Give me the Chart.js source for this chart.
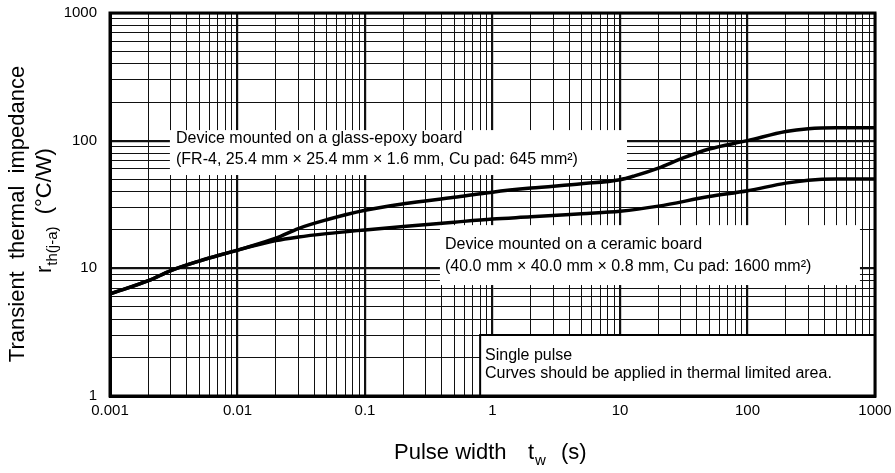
<!DOCTYPE html>
<html>
<head>
<meta charset="utf-8">
<script src="https://cdn.jsdelivr.net/npm/chart.js@4"></script>
<style>
  html, body { margin: 0; padding: 0; background: #fff; }
  #wrap { width: 895px; height: 473px; }
</style>
</head>
<body>
<div id="wrap"><canvas id="zthChart"></canvas></div>
<script>
// Pulse width (s) and transient thermal impedance (°C/W)
const pulseGlass = [0.001, 0.002, 0.003, 0.005, 0.01, 0.02, 0.03, 0.05, 0.1, 0.2, 0.5, 1, 2, 5, 10, 13, 20, 30, 50, 100, 200, 300, 500, 1000];
const rthGlass   = [6.3, 8.0, 9.6, 11.4, 13.9, 17.2, 20.5, 24, 28.5, 32, 36, 39.5, 42.5, 46, 49.5, 53, 61, 72, 86, 100, 118, 124, 126, 126];

const pulseCeramic = [0.001, 0.002, 0.003, 0.005, 0.01, 0.02, 0.03, 0.05, 0.1, 0.2, 0.5, 1, 2, 5, 10, 20, 50, 100, 200, 300, 500, 1000];
const rthCeramic   = [6.3, 8.0, 9.6, 11.4, 13.9, 16.5, 17.6, 18.7, 20, 21.3, 23, 24.3, 25.3, 26.8, 28, 30.7, 36.5, 40.5, 46.5, 49, 50, 50];

const xTickLabels = ["0.001", "0.01", "0.1", "1", "10", "100", "1000"];
const yTickLabels = ["1", "10", "100", "1000"];

const FONT = "'Liberation Sans', Arial, sans-serif";
Chart.defaults.font.family = FONT;
Chart.defaults.color = "#000";

// 1..9 x 10^e grid values for a log axis
function logGrid(e0, e1) {
  const out = [];
  for (let e = e0; e < e1; e++) {
    for (let m = 1; m <= 9; m++) out.push(Number((m * Math.pow(10, e)).toPrecision(12)));
  }
  out.push(Math.pow(10, e1));
  return out;
}
function isDecade(v) {
  const l = Math.log10(v);
  return Math.abs(l - Math.round(l)) < 1e-9;
}

const toPoints = (xs, ys) => xs.map((x, i) => ({ x: x, y: ys[i] }));

// white label boxes, in data coordinates
const boxes = [
  { x0: 0.00295, x1: 11.35, y0: 53.8, y1: 121,
    lines: ["Device mounted on a glass-epoxy board",
            "(FR-4, 25.4 mm \u00d7 25.4 mm \u00d7 1.6 mm, Cu pad: 645 mm\u00b2)"],
    tx: 176, ty: [139, 160] },
  { x0: 0.387, x1: 762, y0: 7.4, y1: 21.8,
    lines: ["Device mounted on a ceramic board",
            "(40.0 mm \u00d7 40.0 mm \u00d7 0.8 mm, Cu pad: 1600 mm\u00b2)"],
    tx: 445, ty: [245, 267] },
  { x0: 0.8, x1: 1000, y0: 1, y1: 3, border: true,
    lines: ["Single pulse", "Curves should be applied in thermal limited area."],
    tx: 485, ty: [356, 374] },
];

const boxPlugin = {
  id: "boxes",
  beforeDatasetsDraw(chart) {
    const { ctx, scales } = chart;
    ctx.save();
    ctx.fillStyle = "#fff";
    boxes.forEach((b) => {
      const l = scales.x.getPixelForValue(b.x0), r = scales.x.getPixelForValue(b.x1);
      const t = scales.y.getPixelForValue(b.y1), btm = scales.y.getPixelForValue(b.y0);
      ctx.fillRect(l, t, r - l, btm - t);
      if (b.border) {
        ctx.strokeStyle = "#000";
        ctx.lineWidth = 2;
        ctx.beginPath();
        ctx.moveTo(l, btm); ctx.lineTo(l, t); ctx.lineTo(r, t);
        ctx.stroke();
      }
    });
    ctx.restore();
  },
  afterDatasetsDraw(chart) {
    const { ctx, chartArea } = chart;
    ctx.save();
    ctx.fillStyle = "#000";
    ctx.font = "16px " + FONT;
    ctx.textBaseline = "middle";
    ctx.textAlign = "left";
    boxes.forEach((b) => {
      b.lines.forEach((s, i) => ctx.fillText(s, b.tx, b.ty[i]));
    });
    // frame
    ctx.strokeStyle = "#000";
    ctx.lineWidth = 3;
    ctx.strokeRect(chartArea.left, chartArea.top, chartArea.right - chartArea.left, chartArea.bottom - chartArea.top);
    ctx.restore();
  },
  afterDraw(chart) {
    const { ctx } = chart;
    ctx.save();
    ctx.fillStyle = "#000";
    ctx.textBaseline = "middle";
    // x title: Pulse width  t_w  (s)
    const y = 453;
    ctx.font = "22px " + FONT;
    ctx.fillText("Pulse width", 394, y);
    ctx.fillText("t", 528, y);
    ctx.fillText("(s)", 561, y);
    ctx.font = "15px " + FONT;
    ctx.fillText("w", 535, y + 8);

    // y title, two rotated lines
    ctx.save();
    ctx.translate(18, 214);
    ctx.rotate(-Math.PI / 2);
    ctx.textAlign = "center";
    ctx.font = "22px " + FONT;
    ctx.fillText("Transient  thermal  impedance", 0, 0);
    ctx.restore();

    ctx.save();
    ctx.translate(45, 273);
    ctx.rotate(-Math.PI / 2);
    ctx.textAlign = "left";
    let p = 0;
    ctx.font = "22px " + FONT;
    ctx.fillText("r", p, 0);
    p += ctx.measureText("r").width;
    ctx.font = "15px " + FONT;
    ctx.fillText("th(j-a)", p, 8);
    p += ctx.measureText("th(j-a)").width;
    ctx.font = "22px " + FONT;
    ctx.fillText("  (\u00b0C/W)", p, 0);
    ctx.restore();

    ctx.restore();
  },
};

const zthChart = new Chart(document.getElementById("zthChart").getContext("2d"), {
  type: "line",
  data: {
    datasets: [
      {
        label: "Glass-epoxy board",
        data: toPoints(pulseGlass, rthGlass),
        borderColor: "#000",
        borderWidth: 3.5,
        pointRadius: 0,
        cubicInterpolationMode: "monotone",
      },
      {
        label: "Ceramic board",
        data: toPoints(pulseCeramic, rthCeramic),
        borderColor: "#000",
        borderWidth: 3.5,
        pointRadius: 0,
        cubicInterpolationMode: "monotone",
      },
    ],
  },
  options: {
    responsive: true,
    maintainAspectRatio: false,
    animation: false,
    layout: { padding: { top: 13, right: 20, left: 0, bottom: 0 } },
    plugins: { legend: { display: false }, tooltip: { enabled: false } },
    scales: {
      x: {
        type: "logarithmic",
        min: 0.001,
        max: 1000,
        afterBuildTicks: (scale) => { scale.ticks = logGrid(-3, 3).map((v) => ({ value: v })); },
        afterFit: (scale) => {
          scale.height = 77;
          scale.paddingLeft = 0;
          scale.paddingRight = 0;
        },
        ticks: {
          autoSkip: false,
          maxRotation: 0,
          padding: 6,
          font: { size: 15 },
          callback: (v) => (isDecade(v) ? xTickLabels[Math.round(Math.log10(v)) + 3] : ""),
        },
        grid: {
          drawTicks: false,
          color: "#111",
          lineWidth: (ctx) => (ctx.tick && isDecade(ctx.tick.value) ? 2.2 : 1),
        },
        border: { color: "#000", width: 3 },
      },
      y: {
        type: "logarithmic",
        min: 1,
        max: 1000,
        afterBuildTicks: (scale) => { scale.ticks = logGrid(0, 3).map((v) => ({ value: v })); },
        afterFit: (scale) => {
          scale.width = 110;
          scale.paddingTop = 0;
          scale.paddingBottom = 0;
        },
        ticks: {
          autoSkip: false,
          padding: 13,
          font: { size: 15 },
          callback: (v) => (isDecade(v) ? yTickLabels[Math.round(Math.log10(v))] : ""),
        },
        grid: {
          drawTicks: false,
          color: "#111",
          lineWidth: (ctx) => (ctx.tick && isDecade(ctx.tick.value) ? 2.2 : 1),
        },
        border: { color: "#000", width: 3 },
      },
    },
  },
  plugins: [boxPlugin],
});
</script>
</body>
</html>
